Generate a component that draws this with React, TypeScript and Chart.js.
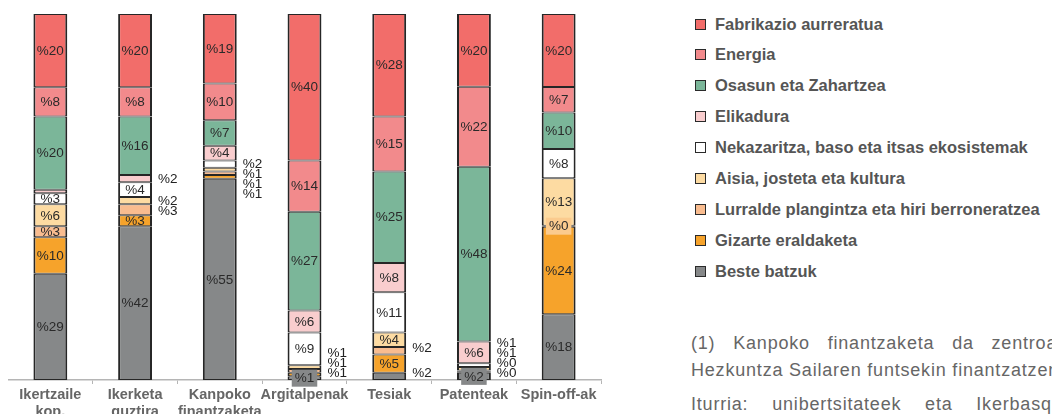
import React, { useEffect, useRef } from "react";
import { Chart, registerables } from "chart.js";

Chart.register(...registerables);

// ---------- data ----------
const categories: string[][] = [
  ["Ikertzaile", "kop."],
  ["Ikerketa", "guztira"],
  ["Kanpoko", "finantzaketa"],
  ["Argitalpenak"],
  ["Tesiak"],
  ["Patenteak"],
  ["Spin-off-ak"],
];

// stack order: bottom -> top
const seriesNames = [
  "Beste batzuk",
  "Gizarte eraldaketa",
  "Lurralde plangintza eta hiri berroneratzea",
  "Aisia, josteta eta kultura",
  "Nekazaritza, baso eta itsas ekosistemak",
  "Elikadura",
  "Osasun eta Zahartzea",
  "Energia",
  "Fabrikazio aurreratua",
];

const besteBatzuk = [29, 42, 55, 1, 2, 2, 18];
const gizarteEraldaketa = [10, 3, 1, 1, 5, 0.3, 24];
const lurraldePlangintza = [3, 3, 1, 1, 2, 0.3, 0.3];
const aisiaJosteta = [6, 2, 1, 1, 4, 1, 13];
const nekazaritza = [3, 4, 2, 9, 11, 1, 8];
const elikadura = [1, 2, 4, 6, 8, 6, 0];
const osasun = [20, 16, 7, 27, 25, 48, 10];
const energia = [8, 8, 10, 14, 15, 22, 7];
const fabrikazio = [20, 20, 19, 40, 28, 20, 20];

const seriesValues = [
  besteBatzuk,
  gizarteEraldaketa,
  lurraldePlangintza,
  aisiaJosteta,
  nekazaritza,
  elikadura,
  osasun,
  energia,
  fabrikazio,
];

const seriesColors = [
  "#868889",
  "#F6A32B",
  "#F9BC8F",
  "#FDDBA2",
  "#FFFFFF",
  "#F9CDCE",
  "#7BB699",
  "#F28A8C",
  "#F26D6A",
];

// label placement: i = inside, o = outside (right), b = boxed inside, "" = none
const labelPlacement: string[][] = [
  ["i", "i", "i", "b", "o", "b", "i"],
  ["i", "i", "o", "o", "i", "o", "i"],
  ["i", "o", "o", "o", "o", "o", "b"],
  ["i", "o", "o", "o", "i", "o", "i"],
  ["i", "i", "o", "i", "i", "o", "i"],
  ["", "o", "i", "i", "i", "i", ""],
  ["i", "i", "i", "i", "i", "i", "i"],
  ["i", "i", "i", "i", "i", "i", "i"],
  ["i", "i", "i", "i", "i", "i", "i"],
];

const boxColors = ["#868889", "", "#FBCB8E", "", "", "", "", "", ""];

const FONT = '"Liberation Sans", Arial, sans-serif';

const colTotals = categories.map((_, j) =>
  seriesValues.reduce((s, arr) => s + arr[j], 0)
);

const labelPlugin = {
  id: "segLabels",
  afterDatasetsDraw(chart: any) {
    const ctx = chart.ctx;
    const area = chart.chartArea;
    ctx.save();
    ctx.font = `13.5px ${FONT}`;
    ctx.textBaseline = "middle";
    for (let j = 0; j < categories.length; j++) {
      const outs: { txt: string; cy: number; x: number }[] = [];
      for (let i = seriesValues.length - 1; i >= 0; i--) {
        const el = chart.getDatasetMeta(i).data[j];
        if (!el) continue;
        const mode = labelPlacement[i][j];
        const v = seriesValues[i][j];
        const txt = "%" + Math.round(v);
        const top = Math.min(el.y, el.base);
        const bot = Math.max(el.y, el.base);
        const cy = (top + bot) / 2;
        if (mode === "i") {
          ctx.fillStyle = "#2a2a2a";
          ctx.textAlign = "center";
          ctx.fillText(txt, el.x, cy + 0.5);
        } else if (mode === "b") {
          const w = ctx.measureText(txt).width + 6;
          ctx.fillStyle = boxColors[i];
          ctx.fillRect(el.x - w / 2, cy - 8.5, w, 17);
          ctx.fillStyle = "#2a2a2a";
          ctx.textAlign = "center";
          ctx.fillText(txt, el.x, cy + 0.5);
        } else if (mode === "o") {
          outs.push({ txt, cy, x: el.x + el.width / 2 + 6 });
        }
      }
      if (outs.length) {
        const gap = 10;
        const ys = outs.map((o) => o.cy);
        for (let k = 1; k < ys.length; k++) ys[k] = Math.max(ys[k], ys[k - 1] + gap);
        const limit = area.bottom - 7;
        const over = ys[ys.length - 1] - limit;
        if (over > 0) for (let k = 0; k < ys.length; k++) ys[k] -= over;
        ctx.fillStyle = "#222";
        ctx.textAlign = "left";
        outs.forEach((o, k) => ctx.fillText(o.txt, o.x, ys[k] + 0.5));
      }
    }
    ctx.restore();
  },
};

function ChartCanvas() {
  const ref = useRef<HTMLCanvasElement>(null);
  useEffect(() => {
    if (!ref.current) return;
    const chart = new Chart(ref.current, {
      type: "bar",
      data: {
        labels: categories,
        datasets: seriesNames.map((name, i) => ({
          label: name,
          data: seriesValues[i].map((v, j) => (v / colTotals[j]) * 100),
          backgroundColor: seriesColors[i],
          borderColor: "#262626",
          borderWidth: { left: 2, right: 2, top: 1, bottom: 1 },
          borderSkipped: false,
          barPercentage: 0.4,
          categoryPercentage: 1,
        })),
      },
      options: {
        animation: false,
        responsive: false,
        maintainAspectRatio: false,
        layout: { padding: { top: 6, right: 7, left: 0, bottom: 0 } },
        plugins: {
          legend: { display: false },
          tooltip: { enabled: false },
        },
        scales: {
          x: {
            stacked: true,
            grid: {
              display: true,
              drawOnChartArea: false,
              drawTicks: true,
              tickLength: 4,
              color: "#b5b5b5",
              offset: true,
            },
            border: { display: true, color: "#b5b5b5", width: 1.5 },
            ticks: {
              color: "#666",
              padding: 3,
              maxRotation: 0,
              autoSkip: false,
              font: { family: FONT, size: 14.5, weight: "bold", lineHeight: 1.15 },
            },
            afterFit(scale: any) {
              scale.height = 48;
            },
          },
          y: {
            stacked: true,
            display: false,
            min: 0,
            max: 100,
          },
        },
      },
      plugins: [labelPlugin],
    } as any);
    return () => chart.destroy();
  }, []);
  return (
    <canvas
      ref={ref}
      width={600}
      height={420}
      style={{ position: "absolute", left: 8, top: 8, width: 600, height: 420 }}
    />
  );
}

const noteStyle: React.CSSProperties = {
  position: "absolute",
  left: 691,
  whiteSpace: "nowrap",
  fontFamily: FONT,
  fontSize: 18,
  letterSpacing: 0.8,
  lineHeight: "26px",
  color: "#666",
};

export default function App() {
  const legendOrder = [...seriesNames.keys()].reverse();
  return (
    <div
      style={{
        position: "fixed",
        left: 0,
        top: 0,
        width: 1052,
        height: 414,
        overflow: "hidden",
        background: "#fff",
      }}
    >
      <ChartCanvas />
      {legendOrder.map((i, k) => (
        <div
          key={i}
          style={{
            position: "absolute",
            left: 695,
            top: 24 + k * 30.9 - 11,
            height: 22,
            display: "flex",
            alignItems: "center",
            whiteSpace: "nowrap",
            fontFamily: FONT,
            fontWeight: "bold",
            fontSize: 16.5,
            color: "#555",
          }}
        >
          <span
            style={{
              display: "inline-block",
              width: 9,
              height: 9,
              border: "1.5px solid #2a2a2a",
              background: seriesColors[i],
              marginRight: 9,
            }}
          />
          {seriesNames[i]}
        </div>
      ))}
      <div style={{ ...noteStyle, top: 343 - 13, wordSpacing: 12 }}>
        (1) Kanpoko finantzaketa da zentroak
      </div>
      <div style={{ ...noteStyle, top: 370 - 13 }}>
        Hezkuntza Sailaren funtsekin finantzatzen
      </div>
      <div style={{ ...noteStyle, top: 404 - 13, wordSpacing: 18 }}>
        Iturria: unibertsitateek eta Ikerbasquek
      </div>
    </div>
  );
}
